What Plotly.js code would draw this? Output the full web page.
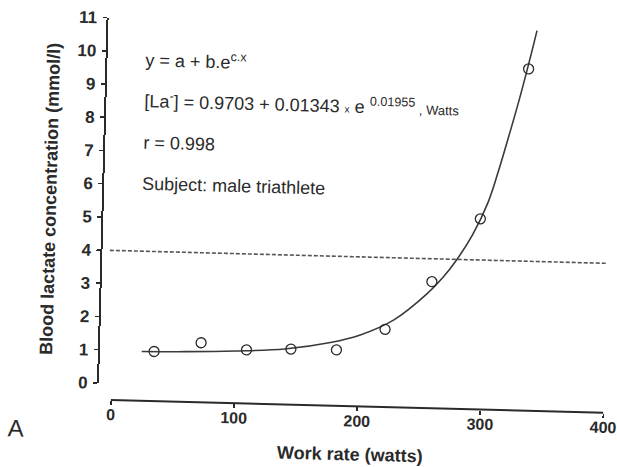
<!DOCTYPE html>
<html>
<head>
<meta charset="utf-8">
<script src="https://cdn.plot.ly/plotly-3.0.1.min.js"></script>
<style>
  html, body { margin: 0; padding: 0; background: #ffffff; overflow: hidden; width: 617px; height: 467px; }
  #chart { width: 640px; height: 467px; transform: rotate(1.5deg); transform-origin: 308.5px 233.5px; }
</style>
</head>
<body>
<div id="chart"></div>
<script>
// Measured lactate values (open circles)
const workRate = [34, 72, 109, 145, 182, 221, 258, 296, 332];
const lactate  = [0.99, 1.29, 1.11, 1.17, 1.18, 1.84, 3.31, 5.24, 9.79];

// Fitted curve
const fitWorkRate = [24, 60, 100, 140, 177, 201, 228, 254, 267, 277, 290, 302, 309, 317, 325, 332, 338];
const fitLactate  = [0.98, 1.01, 1.07, 1.17, 1.40, 1.65, 2.13, 2.93, 3.45, 3.95, 4.75, 5.75, 6.6, 7.7, 8.85, 9.95, 10.95];

// 4 mmol/l reference line
const thresholdX = [-4, 400];
const thresholdY = [4, 4];

// Axes
const xTickVals = [0, 100, 200, 300, 400];
const yTickVals = [0, 1, 2, 3, 4, 5, 6, 7, 8, 9, 10, 11];

// Texts
const xTitle = 'Work rate (watts)';
const yTitle = 'Blood lactate concentration (mmol/l)';
const noteLines = [
  'y = a + b.e<sup>c.x</sup>',
  '[La<sup>-</sup>] = 0.9703 + 0.01343 <span style="font-size:10px">x</span> e <sup>0.01955</sup><span style="font-size:13px"> , Watts</span>',
  'r = 0.998',
  'Subject: male triathlete'
];
const panelLabel = 'A';

const ink = '#2a2a2a';
const FONT = '"Liberation Sans", Arial, sans-serif';

const traces = [
  {
    x: thresholdX, y: thresholdY, type: 'scatter', mode: 'lines',
    line: { color: '#555555', width: 1.6, dash: '4px,2px' },
    hoverinfo: 'skip', showlegend: false
  },
  {
    x: fitWorkRate, y: fitLactate, type: 'scatter', mode: 'lines',
    line: { color: '#3a3a3a', width: 1.6, shape: 'spline', smoothing: 1 },
    showlegend: false, cliponaxis: false
  },
  {
    x: workRate, y: lactate, type: 'scatter', mode: 'markers',
    marker: { symbol: 'circle-open', size: 10, color: ink, line: { width: 1.3, color: ink } },
    showlegend: false, cliponaxis: false
  }
];

const noteY = [9.79, 8.56, 7.28, 6.04];
const annotations = noteLines.map((t, i) => ({
  text: t, x: 19, y: noteY[i], xref: 'x', yref: 'y',
  xanchor: 'left', yanchor: 'middle', showarrow: false,
  font: { family: FONT, size: 18, color: ink }
}));
annotations.push({
  text: panelLabel, x: -0.1625, y: -0.08, xref: 'paper', yref: 'paper',
  xanchor: 'center', yanchor: 'middle', showarrow: false,
  font: { family: FONT, size: 24, color: ink }
});

const layout = {
  width: 640, height: 467,
  margin: { l: 103, r: 32, t: 23, b: 62 },
  paper_bgcolor: '#ffffff', plot_bgcolor: '#ffffff',
  showlegend: false,
  font: { family: FONT, color: ink },
  xaxis: {
    range: [-10, 400], anchor: 'free', position: 0,
    showline: false, zeroline: false, showgrid: false,
    tickmode: 'array', tickvals: xTickVals,
    ticks: 'outside', ticklen: 4, tickwidth: 1.6, tickcolor: ink,
    ticklabelstandoff: -4, ticklabeloverflow: 'allow',
    tickfont: { family: FONT, size: 16, color: ink, weight: 'bold' },
    title: { text: xTitle, standoff: 19, font: { family: FONT, size: 18, color: ink, weight: 'bold' } }
  },
  yaxis: {
    range: [0, 11], domain: [0.0435, 1],
    showline: true, linecolor: ink, linewidth: 2,
    zeroline: false, showgrid: false,
    tickmode: 'array', tickvals: yTickVals,
    ticks: 'outside', ticklen: 4, tickwidth: 1.6, tickcolor: ink,
    ticklabelstandoff: 2,
    tickfont: { family: FONT, size: 17, color: ink, weight: 'bold' },
    title: { text: yTitle, standoff: 12, font: { family: FONT, size: 18, color: ink, weight: 'bold' } }
  },
  shapes: [
    { type: 'line', xref: 'x', yref: 'paper', x0: 0, x1: 400, y0: 0, y1: 0,
      line: { color: ink, width: 2 } }
  ],
  annotations: annotations
};

Plotly.newPlot('chart', traces, layout, { displayModeBar: false, staticPlot: true });
</script>
</body>
</html>
